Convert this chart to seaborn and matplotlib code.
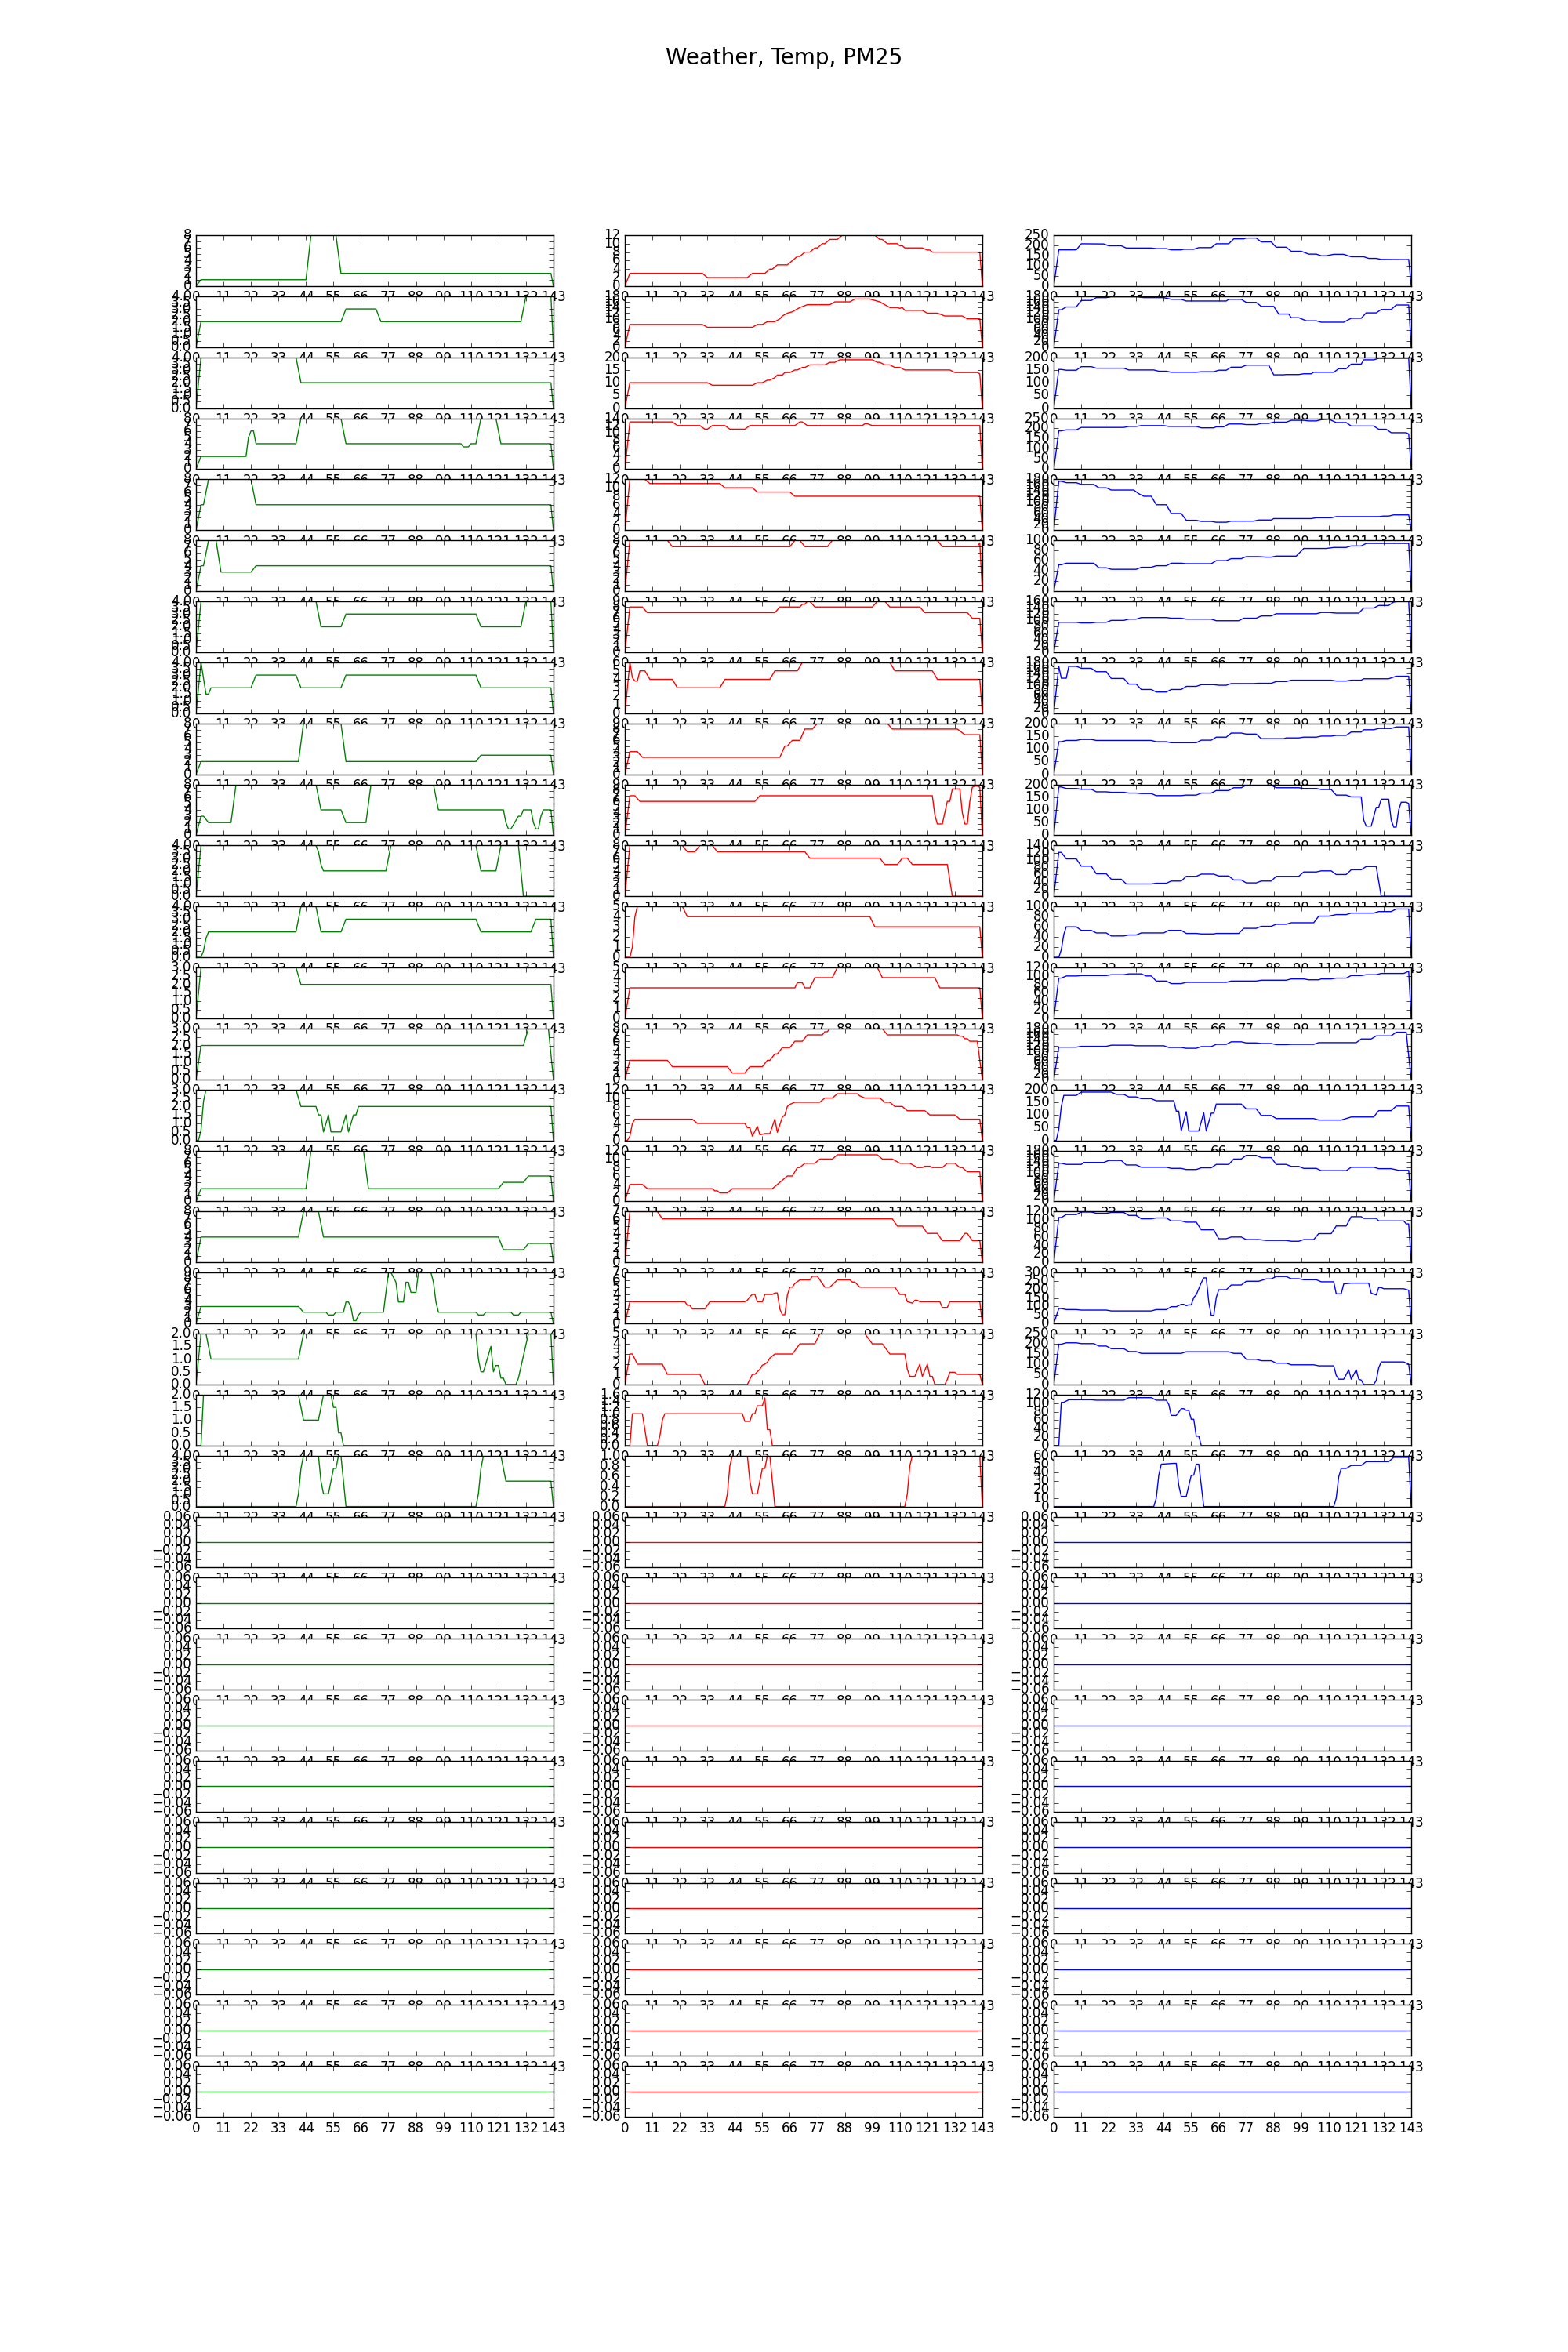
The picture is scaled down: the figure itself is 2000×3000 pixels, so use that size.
import matplotlib
matplotlib.use("Agg")
import matplotlib.pyplot as plt
import seaborn as sns

# 31 days, each day 144 samples (index 0..143); values read as (index, value) break points
title = "Weather, Temp, PM25"
x_ticks = list(range(0, 144, 11))
n_days = 31
line_colors = ["g", "r", "b"]
empty_day = [(0, 0), (143, 0)]

weather = [
    [(0, 0), (2, 1), (44, 1), (46, 8), (56, 8), (58, 2), (142, 2), (143, 0)],
    [(0, 0), (2, 2), (58, 2), (60, 3), (72, 3), (74, 2), (130, 2), (132, 4), (142, 4), (143, 0)],
    [(0, 0), (2, 4), (40, 4), (42, 2), (142, 2), (143, 0)],
    [(0, 0), (2, 2), (20, 2), (21, 5), (22, 6), (23, 6), (24, 4), (40, 4), (42, 8), (58, 8), (60, 4), (106, 4),
     (107, 3.5), (109, 3.5), (110, 4), (112, 4), (114, 8), (120, 8), (122, 4), (142, 4), (143, 0)],
    [(0, 0), (2, 4), (3, 4), (5, 8), (22, 8), (24, 4), (142, 4), (143, 0)],
    [(0, 0), (2, 4), (3, 4), (5, 8), (8, 8), (10, 3), (22, 3), (24, 4), (142, 4), (143, 0)],
    [(0, 0), (2, 4), (48, 4), (50, 2), (58, 2), (60, 3), (112, 3), (114, 2), (130, 2), (132, 4), (142, 4), (143, 0)],
    [(0, 0), (2, 4), (4, 1.5), (5, 1.5), (6, 2), (22, 2), (24, 3), (40, 3), (42, 2), (58, 2), (60, 3), (112, 3),
     (114, 2), (142, 2), (143, 0)],
    [(0, 0), (2, 2), (41, 2), (43, 8), (58, 8), (60, 2), (112, 2), (114, 3), (142, 3), (143, 0)],
    [(0, 0), (2, 3), (3, 3), (5, 2), (14, 2), (16, 8), (48, 8), (50, 4), (58, 4), (60, 2), (68, 2), (70, 8), (95, 8),
     (97, 4), (123, 4), (124, 2), (125, 1), (126, 1), (129, 3), (130, 3), (131, 4), (134, 4), (135, 2), (136, 1),
     (137, 1), (138, 3), (139, 4), (142, 4), (143, 0)],
    [(0, 0), (2, 4), (48, 4), (49, 3.5), (50, 2.5), (51, 2), (76, 2), (78, 4), (112, 4), (114, 2), (120, 2), (122, 4),
     (129, 4), (131, 0), (143, 0)],
    [(0, 0), (2, 0), (3, 0.5), (4, 1.5), (5, 2), (40, 2), (42, 4), (48, 4), (50, 2), (58, 2), (60, 3), (112, 3),
     (114, 2), (134, 2), (136, 3), (142, 3), (143, 0)],
    [(0, 0), (2, 3), (40, 3), (42, 2), (142, 2), (143, 0)],
    [(0, 0), (2, 2), (131, 2), (133, 3), (141, 3), (143, 0)],
    [(0, 0), (1, 0), (2, 0.6), (3, 2.3), (4, 3), (40, 3), (42, 2), (48, 2), (49, 1.5), (50, 1.5), (51, 0.5), (53, 1.5),
     (54, 0.5), (58, 0.5), (60, 1.5), (61, 0.5), (63, 1.5), (64, 1.5), (65, 2), (142, 2), (143, 0)],
    [(0, 0), (2, 2), (44, 2), (46, 8), (67, 8), (69, 2), (121, 2), (123, 3), (131, 3), (133, 4), (142, 4), (143, 0)],
    [(0, 0), (2, 4), (41, 4), (43, 8), (49, 8), (51, 4), (121, 4), (123, 2), (131, 2), (133, 3), (142, 3), (143, 0)],
    [(0, 0), (2, 3), (41, 3), (43, 2), (52, 2), (53, 1.5), (55, 1.5), (56, 2), (59, 2), (60, 3.8), (61, 3.8),
     (62, 2.9), (63, 0.5), (64, 0.5), (65, 1.5), (66, 2), (75, 2), (77, 9), (78, 9), (80, 7.3), (81, 3.8), (83, 3.8),
     (84, 7.3), (85, 7.3), (86, 5.5), (88, 5.5), (89, 9), (94, 9), (95, 7.3), (96, 3.8), (97, 2), (112, 2),
     (113, 1.5), (115, 1.5), (116, 2), (126, 2), (127, 1.5), (129, 1.5), (130, 2), (142, 2), (143, 0)],
    [(0, 0), (2, 2), (4, 2), (6, 1), (41, 1), (43, 2), (112, 2), (113, 1), (114, 0.5), (115, 0.5), (118, 1.5),
     (119, 0.5), (120, 0.75), (121, 0.75), (122, 0.25), (123, 0.25), (124, 0), (128, 0), (129, 0.25), (133, 2),
     (142, 2), (143, 0)],
    [(0, 0), (2, 0), (3, 2), (41, 2), (43, 1), (49, 1), (51, 2), (54, 2), (55, 1.5), (56, 1.5), (57, 0.5), (58, 0.5),
     (59, 0), (143, 0)],
    [(0, 0), (40, 0), (41, 1), (42, 3), (43, 4), (49, 4), (50, 2), (51, 1), (53, 1), (55, 3), (56, 3), (57, 4),
     (58, 4), (60, 0), (112, 0), (113, 1), (114, 3), (115, 4), (122, 4), (124, 2), (142, 2), (143, 0)],
]

temp = [
    [(0, 0), (2, 3), (31, 3), (33, 2), (49, 2), (51, 3), (56, 3), (58, 4), (59, 4), (61, 5), (65, 5), (67, 6), (69, 7),
     (70, 7), (72, 8), (74, 8), (76, 9), (77, 9), (79, 10), (80, 10), (82, 11), (85, 11), (87, 12), (100, 12),
     (102, 11), (103, 11), (105, 10), (109, 10), (110, 9.5), (111, 9.5), (112, 9), (119, 9), (121, 8.5), (122, 8.5),
     (123, 8), (142, 8), (143, 0)],
    [(0, 0), (2, 8), (31, 8), (33, 7), (51, 7), (53, 8), (55, 8), (57, 9), (60, 9), (62, 10), (63, 11), (65, 12),
     (67, 12.5), (68, 13), (70, 14), (73, 15), (82, 15), (84, 16), (90, 16), (92, 17), (98, 17), (100, 16.5),
     (102, 16), (104, 15), (106, 14), (109, 14), (110, 13.7), (111, 14), (112, 13), (119, 13), (121, 12), (125, 12),
     (126, 11.7), (128, 11), (135, 11), (137, 10), (142, 10), (143, 0)],
    [(0, 0), (2, 10), (33, 10), (35, 9), (51, 9), (53, 10), (55, 10), (57, 11), (58, 11), (60, 12), (61, 13), (63, 13),
     (64, 14), (66, 14), (68, 15), (69, 15), (71, 16), (72, 16), (74, 17), (80, 17), (82, 18), (84, 18), (86, 19),
     (99, 19), (101, 18), (102, 18), (104, 17), (106, 17), (108, 16), (110, 16), (112, 15), (130, 15), (132, 14),
     (141, 14), (142, 13.5), (143, 0)],
    [(0, 0), (2, 13), (19, 13), (21, 12), (30, 12), (32, 11), (33, 11), (35, 12), (40, 12), (42, 11), (48, 11),
     (50, 12), (68, 12), (70, 13), (71, 13), (73, 12), (95, 12), (96, 12.5), (97, 12.5), (99, 12), (142, 12), (143, 0)],
    [(0, 0), (2, 12), (8, 12), (10, 11), (38, 11), (40, 10), (51, 10), (53, 9), (66, 9), (68, 8), (142, 8), (143, 0)],
    [(0, 0), (2, 8), (17, 8), (19, 7), (66, 7), (68, 8), (70, 8), (72, 7), (81, 7), (83, 8), (125, 8), (127, 7),
     (141, 7), (142, 7.6), (143, 0)],
    [(0, 0), (2, 8), (7, 8), (9, 7), (60, 7), (62, 8), (70, 8), (71, 8.5), (72, 8.5), (73, 9), (74, 9), (76, 8),
     (99, 8), (101, 9), (104, 9), (106, 8), (118, 8), (120, 7), (137, 7), (139, 6), (142, 6), (143, 0)],
    [(0, 0), (2, 6), (3, 4.2), (4, 3.8), (5, 3.8), (6, 5), (8, 5), (10, 4), (19, 4), (21, 3), (38, 3), (40, 4),
     (58, 4), (60, 5), (69, 5), (71, 6), (106, 6), (108, 5), (123, 5), (125, 4), (142, 4), (143, 0)],
    [(0, 0), (2, 4), (5, 4), (7, 3), (62, 3), (64, 5), (65, 5), (67, 6), (70, 6), (72, 8), (75, 8), (77, 9), (105, 9),
     (107, 8), (133, 8), (136, 7), (142, 7), (143, 0)],
    [(0, 0), (2, 7), (4, 7), (6, 6), (52, 6), (54, 7), (123, 7), (124, 3.6), (125, 2), (127, 2), (129, 6), (130, 6),
     (131, 8.2), (134, 8.2), (135, 4), (136, 2), (137, 2), (138, 6), (139, 8.5), (140, 8.7), (141, 8.7), (142, 8.5),
     (143, 0)],
    [(0, 0), (2, 8), (23, 8), (25, 7), (28, 7), (30, 8), (35, 8), (37, 7), (72, 7), (74, 6), (102, 6), (104, 5),
     (109, 5), (111, 6), (113, 6), (115, 5), (129, 5), (131, 0), (143, 0)],
    [(0, 0), (2, 0), (3, 1), (4, 4), (5, 5), (23, 5), (25, 4), (98, 4), (100, 3), (142, 3), (143, 0)],
    [(0, 0), (2, 3), (68, 3), (69, 3.5), (71, 3.5), (72, 3), (74, 3), (76, 4), (83, 4), (85, 5), (101, 5), (103, 4),
     (124, 4), (126, 3), (142, 3), (143, 0)],
    [(0, 0), (2, 3), (17, 3), (19, 2), (41, 2), (43, 1), (48, 1), (50, 2), (55, 2), (57, 3), (58, 3), (60, 4), (61, 4),
     (63, 5), (66, 5), (68, 6), (71, 6), (73, 7), (79, 7), (80, 7.5), (81, 7.5), (82, 8), (103, 8), (105, 7),
     (133, 7), (134, 6.8), (135, 6.8), (136, 6.4), (137, 6.4), (138, 6), (141, 6), (143, 0)],
    [(0, 0), (1, 0), (2, 1), (3, 4), (4, 5), (27, 5), (29, 4), (48, 4), (49, 3), (50, 3), (51, 1), (53, 3.3),
     (54, 1.3), (56, 1.6), (58, 1.6), (60, 5), (61, 1.9), (63, 5.5), (64, 6), (65, 8), (66, 8.5), (68, 9), (78, 9),
     (80, 10), (83, 10), (85, 11), (93, 11), (94, 10.5), (96, 10), (102, 10), (104, 9), (106, 9), (108, 8), (111, 8),
     (113, 7), (120, 7), (122, 6), (132, 6), (134, 5), (142, 5), (143, 0)],
    [(0, 0), (2, 4), (7, 4), (9, 3), (35, 3), (36, 2.5), (37, 2.5), (38, 2), (41, 2), (43, 3), (59, 3), (65, 6),
     (67, 6), (69, 8), (70, 8), (72, 9), (76, 9), (78, 10), (83, 10), (85, 11), (101, 11), (103, 10), (107, 10),
     (110, 9), (114, 9), (117, 8), (119, 8), (120, 8.3), (122, 8.3), (123, 8), (127, 8), (129, 9), (132, 9), (134, 8),
     (135, 8), (137, 7), (142, 7), (143, 0)],
    [(0, 0), (2, 7), (13, 7), (15, 6), (107, 6), (109, 5), (119, 5), (121, 4), (125, 4), (127, 3), (134, 3), (136, 4),
     (137, 4), (139, 3), (142, 3), (143, 0)],
    [(0, 0), (2, 3), (24, 3), (25, 2.5), (26, 2.5), (27, 2), (32, 2), (34, 3), (48, 3), (49, 3.2), (50, 3.7), (51, 4),
     (52, 4), (53, 3), (55, 3), (56, 4), (59, 4), (60, 4.2), (61, 4.2), (62, 2), (63, 1.2), (64, 1.2), (65, 3.9),
     (66, 5), (67, 5), (68, 5.5), (70, 6), (74, 6), (75, 6.5), (77, 6.5), (78, 6), (80, 5), (82, 5), (85, 6), (90, 6),
     (91, 5.7), (92, 5.7), (94, 5), (108, 5), (110, 4), (112, 4), (113, 3), (115, 2.8), (116, 3.2), (117, 3.2),
     (118, 3), (126, 3), (127, 2.2), (129, 2.2), (130, 3), (142, 3), (143, 0)],
    [(0, 0), (2, 3), (3, 3), (5, 2), (15, 2), (17, 1), (30, 1), (32, 0), (49, 0), (50, 0.5), (51, 1), (52, 1),
     (54, 1.5), (55, 1.9), (56, 2), (57, 2.2), (58, 2.6), (60, 3), (67, 3), (70, 4), (76, 4), (78, 5), (96, 5),
     (99, 4), (103, 4), (106, 3), (112, 3), (113, 1.5), (114, 0.8), (116, 0.8), (118, 2), (119, 0.8), (121, 2),
     (122, 0.8), (123, 0.8), (124, 0), (128, 0), (129, 0.5), (130, 1.2), (132, 1.2), (133, 1), (142, 1), (143, 0)],
    [(0, 0), (2, 0), (3, 1), (7, 1), (9, 0), (13, 0), (14, 0.3), (15, 0.8), (16, 1), (47, 1), (48, 0.76), (50, 0.76),
     (51, 1), (52, 1), (53, 1.25), (55, 1.25), (56, 1.5), (57, 0.5), (58, 0.5), (59, 0), (143, 0)],
    [(0, 0), (40, 0), (41, 0.25), (42, 0.8), (43, 1), (49, 1), (50, 0.5), (51, 0.25), (53, 0.25), (55, 0.75),
     (56, 0.75), (57, 1), (58, 1), (60, 0), (112, 0), (113, 0.25), (114, 0.8), (115, 1), (142, 1), (143, 0)],
]

pm25 = [
    [(0, 0), (2, 178), (9, 178), (11, 208), (20, 207), (22, 198), (27, 198), (29, 187), (39, 187), (41, 184),
     (45, 184), (47, 178), (51, 178), (52, 181), (56, 181), (58, 189), (63, 189), (65, 208), (70, 208), (72, 232),
     (76, 232), (77, 236), (81, 236), (83, 217), (87, 217), (89, 191), (93, 191), (95, 171), (99, 171), (102, 157),
     (105, 157), (107, 149), (109, 149), (112, 156), (116, 156), (119, 144), (124, 144), (126, 136), (129, 136),
     (131, 131), (141, 130), (142, 131), (143, 0)],
    [(0, 0), (2, 132), (3, 132), (5, 142), (9, 142), (11, 165), (15, 165), (17, 175), (21, 175), (23, 178), (33, 178),
     (36, 175), (44, 175), (47, 169), (51, 169), (53, 163), (69, 163), (70, 169), (75, 169), (77, 158), (81, 158),
     (83, 144), (88, 144), (90, 117), (94, 117), (95, 104), (98, 104), (101, 93), (105, 93), (107, 88), (116, 88),
     (119, 102), (123, 102), (125, 121), (129, 121), (131, 133), (135, 133), (137, 149), (142, 149), (143, 0)],
    [(0, 0), (2, 152), (3, 152), (5, 149), (9, 149), (11, 163), (15, 163), (17, 157), (28, 157), (30, 150), (40, 150),
     (42, 145), (45, 145), (47, 141), (57, 141), (59, 143), (64, 143), (66, 149), (69, 149), (71, 161), (75, 161),
     (77, 169), (86, 169), (88, 131), (92, 131), (93, 132), (98, 132), (100, 135), (103, 135), (104, 141), (112, 141),
     (114, 155), (117, 155), (119, 173), (123, 173), (124, 190), (128, 190), (130, 196), (142, 196), (143, 0)],
    [(0, 0), (2, 188), (3, 188), (5, 193), (9, 193), (11, 205), (28, 205), (30, 210), (33, 210), (35, 214), (44, 214),
     (46, 210), (57, 210), (59, 203), (64, 203), (65, 208), (68, 208), (70, 222), (75, 222), (77, 219), (81, 219),
     (83, 225), (86, 225), (88, 231), (93, 231), (95, 240), (100, 240), (102, 237), (105, 237), (107, 243),
     (110, 246), (113, 229), (117, 229), (119, 212), (128, 212), (130, 196), (133, 196), (135, 179), (141, 179),
     (142, 173), (143, 0)],
    [(0, 0), (2, 173), (3, 173), (5, 168), (9, 168), (11, 162), (16, 162), (18, 150), (21, 150), (23, 142), (32, 142),
     (34, 129), (36, 120), (39, 120), (41, 90), (45, 90), (47, 59), (51, 59), (53, 35), (57, 35), (59, 31), (63, 31),
     (65, 28), (69, 28), (71, 32), (80, 32), (82, 36), (87, 36), (88, 41), (103, 41), (105, 44), (111, 44),
     (113, 48), (130, 48), (132, 50), (134, 50), (136, 54), (142, 54), (143, 0)],
    [(0, 0), (2, 52), (3, 52), (5, 55), (16, 55), (18, 46), (21, 46), (23, 43), (33, 43), (35, 47), (39, 47), (41, 50),
     (45, 50), (47, 55), (51, 55), (53, 54), (63, 54), (65, 60), (69, 60), (71, 64), (75, 64), (77, 68), (82, 68),
     (85, 67), (87, 67), (89, 69), (97, 69), (100, 84), (109, 84), (112, 86), (117, 86), (119, 89), (123, 89),
     (125, 94), (142, 94), (143, 0)],
    [(0, 0), (2, 94), (9, 94), (11, 92), (15, 92), (17, 94), (21, 94), (23, 100), (28, 100), (30, 104), (33, 104),
     (35, 109), (45, 109), (47, 107), (51, 107), (53, 104), (63, 104), (65, 99), (74, 99), (76, 107), (81, 107),
     (83, 114), (87, 114), (89, 121), (105, 121), (107, 125), (110, 125), (113, 123), (122, 123), (124, 139),
     (128, 139), (130, 147), (134, 147), (136, 158), (138, 160), (142, 160), (143, 0)],
    [(0, 0), (2, 166), (3, 124), (5, 124), (6, 166), (9, 166), (11, 159), (15, 159), (17, 147), (21, 147), (23, 123),
     (28, 123), (30, 103), (33, 103), (35, 84), (39, 84), (41, 75), (45, 75), (47, 84), (51, 84), (53, 95), (57, 95),
     (59, 101), (64, 101), (66, 99), (69, 99), (71, 105), (80, 105), (82, 106), (87, 106), (89, 112), (93, 112),
     (95, 117), (111, 117), (113, 114), (117, 114), (119, 117), (123, 117), (124, 122), (134, 122), (137, 131),
     (142, 131), (143, 0)],
    [(0, 0), (2, 128), (3, 128), (5, 133), (9, 133), (11, 137), (15, 137), (17, 133), (39, 133), (41, 128), (45, 128),
     (47, 124), (57, 124), (59, 134), (63, 134), (65, 146), (69, 146), (71, 162), (75, 162), (77, 158), (81, 158),
     (83, 140), (92, 140), (93, 143), (98, 143), (100, 146), (105, 146), (107, 150), (111, 150), (113, 153),
     (117, 153), (119, 166), (123, 166), (124, 175), (128, 175), (130, 180), (135, 180), (137, 186), (142, 186),
     (143, 0)],
    [(0, 0), (2, 190), (3, 190), (5, 184), (9, 184), (11, 181), (15, 181), (17, 171), (21, 171), (23, 169), (28, 169),
     (30, 166), (33, 166), (35, 164), (39, 164), (41, 156), (51, 156), (53, 158), (57, 158), (59, 166), (63, 166),
     (65, 176), (70, 176), (72, 187), (75, 187), (77, 197), (87, 197), (89, 187), (98, 187), (100, 184), (105, 184),
     (107, 180), (111, 180), (113, 158), (117, 158), (119, 151), (123, 151), (124, 60), (125, 36), (127, 36),
     (129, 110), (130, 110), (131, 142), (134, 142), (135, 60), (136, 32), (137, 32), (138, 100), (139, 130),
     (141, 130), (142, 125), (143, 0)],
    [(0, 0), (2, 121), (3, 121), (5, 103), (9, 103), (11, 83), (15, 83), (17, 62), (21, 62), (23, 47), (27, 47),
     (29, 34), (39, 34), (41, 36), (45, 36), (47, 42), (51, 42), (53, 55), (57, 55), (59, 61), (64, 61), (66, 56),
     (70, 56), (72, 45), (75, 45), (77, 37), (81, 37), (83, 42), (87, 42), (89, 55), (98, 55), (100, 67), (105, 67),
     (107, 70), (111, 70), (113, 60), (117, 60), (119, 73), (123, 73), (125, 82), (129, 82), (131, 0), (143, 0)],
    [(0, 0), (2, 0), (3, 15), (4, 45), (5, 60), (9, 60), (11, 53), (15, 53), (17, 48), (21, 48), (23, 42), (28, 42),
     (30, 44), (33, 44), (35, 48), (44, 48), (46, 53), (51, 53), (53, 47), (57, 47), (59, 46), (64, 46), (65, 47),
     (74, 47), (76, 57), (81, 57), (83, 61), (87, 61), (89, 65), (93, 65), (95, 68), (104, 68), (106, 81), (110, 81),
     (113, 84), (117, 84), (119, 87), (128, 87), (130, 90), (135, 90), (137, 95), (142, 95), (143, 0)],
    [(0, 0), (2, 95), (3, 95), (5, 100), (9, 100), (11, 101), (21, 101), (23, 103), (28, 103), (30, 105), (35, 105),
     (37, 100), (39, 100), (41, 88), (45, 88), (47, 82), (51, 82), (53, 85), (69, 85), (71, 88), (81, 88), (83, 90),
     (93, 90), (95, 93), (100, 93), (102, 91), (106, 91), (107, 93), (111, 93), (113, 95), (117, 95), (119, 101),
     (123, 101), (125, 103), (129, 103), (131, 106), (140, 106), (142, 111), (143, 0)],
    [(0, 0), (2, 114), (9, 114), (11, 117), (21, 117), (23, 121), (31, 121), (33, 119), (44, 119), (46, 113),
     (51, 113), (53, 110), (57, 110), (59, 116), (63, 116), (65, 124), (69, 124), (71, 133), (75, 133), (77, 129),
     (81, 129), (83, 127), (87, 127), (89, 123), (93, 123), (95, 124), (104, 124), (106, 130), (121, 130),
     (123, 143), (127, 143), (129, 154), (135, 154), (137, 167), (141, 167), (143, 0)],
    [(0, 0), (1, 0), (2, 45), (3, 133), (4, 177), (9, 177), (11, 190), (23, 190), (25, 181), (28, 181), (30, 171),
     (33, 171), (35, 164), (39, 164), (41, 156), (48, 156), (49, 115), (50, 115), (51, 37), (53, 113), (54, 37),
     (58, 37), (60, 109), (61, 37), (63, 107), (64, 107), (65, 143), (75, 143), (77, 124), (81, 124), (83, 98),
     (87, 98), (89, 86), (104, 86), (106, 80), (115, 80), (119, 92), (128, 92), (130, 117), (135, 117), (137, 135),
     (142, 135), (143, 0)],
    [(0, 0), (2, 135), (3, 135), (5, 131), (11, 131), (12, 138), (20, 138), (22, 145), (27, 145), (29, 129),
     (33, 129), (35, 121), (45, 121), (47, 117), (51, 117), (53, 113), (57, 113), (59, 119), (63, 119), (65, 131),
     (70, 131), (72, 150), (75, 150), (77, 163), (81, 163), (83, 155), (87, 155), (89, 131), (93, 131), (95, 124),
     (98, 124), (100, 117), (105, 117), (107, 109), (117, 109), (119, 121), (128, 121), (130, 116), (135, 116),
     (138, 110), (142, 110), (143, 0)],
    [(0, 0), (2, 106), (3, 106), (5, 113), (9, 113), (11, 119), (15, 119), (17, 116), (21, 116), (23, 118), (28, 118),
     (30, 111), (33, 111), (35, 103), (39, 103), (41, 105), (45, 105), (47, 98), (51, 98), (53, 95), (57, 95),
     (59, 77), (64, 77), (66, 56), (69, 56), (71, 60), (75, 60), (77, 54), (82, 54), (85, 52), (93, 52), (95, 50),
     (98, 50), (100, 54), (104, 54), (106, 68), (111, 68), (113, 86), (117, 86), (119, 108), (123, 108), (124, 104),
     (129, 104), (130, 98), (140, 98), (141, 91), (142, 91), (143, 0)],
    [(0, 0), (2, 88), (3, 88), (5, 82), (9, 82), (11, 79), (21, 79), (23, 74), (39, 74), (41, 82), (45, 82), (47, 99),
     (49, 99), (51, 113), (52, 113), (53, 105), (54, 110), (55, 110), (56, 153), (57, 170), (58, 205), (59, 240),
     (60, 269), (61, 269), (62, 127), (63, 48), (64, 48), (65, 153), (66, 199), (69, 199), (71, 227), (75, 227),
     (77, 249), (82, 249), (85, 263), (87, 263), (89, 277), (93, 277), (95, 264), (98, 264), (100, 258), (105, 258),
     (107, 246), (112, 246), (113, 175), (115, 175), (116, 233), (119, 238), (126, 238), (127, 179), (129, 168),
     (130, 212), (131, 212), (132, 205), (140, 205), (142, 196), (143, 0)],
    [(0, 0), (2, 198), (3, 198), (5, 205), (9, 205), (11, 201), (16, 201), (18, 189), (21, 189), (23, 176), (28, 176),
     (30, 162), (33, 162), (35, 153), (51, 153), (53, 161), (70, 161), (72, 153), (75, 153), (77, 124), (81, 124),
     (83, 117), (87, 117), (89, 105), (93, 105), (95, 97), (104, 97), (106, 92), (112, 92), (113, 45), (114, 26),
     (116, 26), (118, 72), (119, 26), (121, 72), (122, 26), (123, 22), (124, 0), (128, 0), (129, 20), (130, 82),
     (131, 111), (140, 111), (142, 100), (143, 0)],
    [(0, 0), (2, 0), (3, 102), (4, 102), (6, 108), (15, 108), (17, 107), (28, 107), (30, 113), (39, 113), (41, 107),
     (45, 107), (46, 97), (47, 71), (49, 71), (51, 87), (52, 87), (53, 83), (54, 83), (55, 62), (56, 62), (57, 22),
     (58, 22), (59, 0), (143, 0)],
    [(0, 0), (40, 0), (41, 10), (42, 37), (43, 50), (48, 51), (49, 51), (50, 25), (51, 12), (53, 12), (55, 37),
     (56, 37), (57, 50), (58, 50), (60, 0), (112, 0), (113, 10), (114, 35), (115, 45), (117, 45), (119, 48.5),
     (123, 48.5), (125, 53), (134, 53), (136, 58), (142, 58), (143, 0)],
]

# old matplotlib look: ticks inside, round-number limits
plt.style.use("classic")

fig, axes = plt.subplots(n_days, 3, figsize=(20, 30))

for col, series in enumerate([weather, temp, pm25]):
    for day in range(n_days):
        pts = series[day] if day < len(series) else empty_day
        ax = axes[day, col]
        sns.lineplot(x=[p[0] for p in pts], y=[p[1] for p in pts], ax=ax,
                     color=line_colors[col], estimator=None, sort=False, linewidth=1.0)
        ax.set_xticks(x_ticks)
        ax.set_xlim(0, 143)
        ax.set_xlabel("")
        ax.set_ylabel("")

fig.suptitle(title, fontsize=20)
fig.savefig("out.png", dpi=100, facecolor="white")
